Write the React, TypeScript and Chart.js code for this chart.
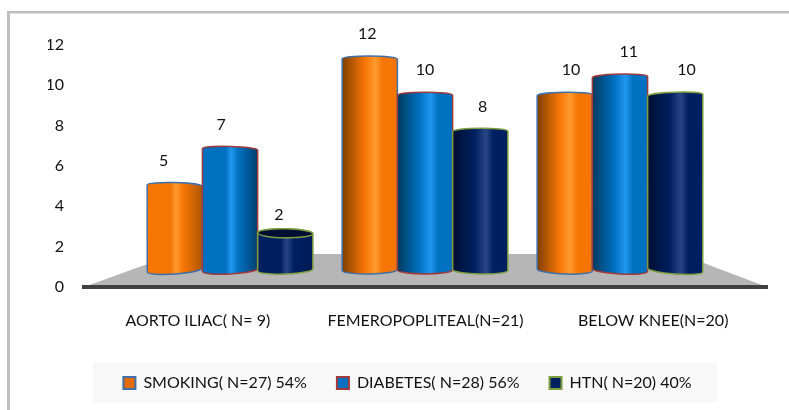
import React, { useEffect, useRef } from "react";
import { Chart, registerables } from "chart.js";

Chart.register(...registerables);

const categories = ["AORTO ILIAC( N= 9)", "FEMEROPOPLITEAL(N=21)", "BELOW KNEE(N=20)"];
const seriesNames = ["SMOKING( N=27) 54%", "DIABETES( N=28) 56%", "HTN( N=20) 40%"];
const smoking = [5, 12, 10];
const diabetes = [7, 10, 11];
const htn = [2, 8, 10];
const seriesValues = [smoking, diabetes, htn];
const yTicks = [0, 2, 4, 6, 8, 10, 12];

const borders = ["#3f6fa8", "#a33a3a", "#7f9f3f"];
const swatches = ["#e36c09", "#0070c0", "#002060"];
const tones = [
  { dark: "#7f3f00", base: "#f57505", light: "#ff9a2e", end: "#ad5600" },
  { dark: "#003a5e", base: "#0070c0", light: "#2098f0", end: "#003f6c" },
  { dark: "#000f33", base: "#001f60", light: "#2a4585", end: "#001a55" },
];
const FONT = "Lato, 'Open Sans', sans-serif";
const TEXT = "#111111";

const decor = {
  id: "decor",
  beforeDraw(chart: any) {
    const { ctx, chartArea } = chart;
    ctx.save();
    ctx.fillStyle = "#ffffff";
    ctx.fillRect(0, 0, chart.width, chart.height);
    ctx.fillStyle = "#bfbfbf";
    ctx.fillRect(7, 11, 3, chart.height - 11);
    ctx.fillRect(7, 11, chart.width - 7, 2.5);
    ctx.fillStyle = "#f8f8f8";
    ctx.fillRect(93, 363, 624, 39);
    const b = chartArea.bottom;
    ctx.fillStyle = "#b6b6b6";
    ctx.beginPath();
    ctx.moveTo(chartArea.left, b);
    ctx.lineTo(175, 254);
    ctx.lineTo(680, 254);
    ctx.lineTo(chartArea.right, b);
    ctx.closePath();
    ctx.fill();
    ctx.restore();
  },
  afterDatasetsDraw(chart: any) {
    const { ctx } = chart;
    const middle = 425;
    ctx.save();
    chart.data.datasets.forEach((ds: any, s: number) => {
      const meta = chart.getDatasetMeta(s);
      meta.data.forEach((bar: any, i: number) => {
        const { x, y, base, width } = bar;
        const rx = width / 2;
        const t = tones[s];
        const g = ctx.createLinearGradient(x - rx, 0, x + rx, 0);
        if (i === 0) {
          g.addColorStop(0, t.base);
          g.addColorStop(0.42, t.base);
          g.addColorStop(0.52, t.light);
          g.addColorStop(0.66, t.base);
          g.addColorStop(1, t.end);
        } else {
          g.addColorStop(0, t.dark);
          g.addColorStop(0.4, t.base);
          g.addColorStop(0.6, t.light);
          g.addColorStop(0.74, t.base);
          g.addColorStop(1, t.base);
        }
        const exposed = y > 210;
        const ryTop = exposed ? 4.5 : 3;
        const cyTop = exposed ? y - 4.5 : y + 2;
        const cyBot = base - 4;
        const rotBot = (x - middle) * 0.00028;
        const rotTop = -(x - middle) * 0.00012;
        ctx.beginPath();
        ctx.ellipse(x, cyTop, rx, ryTop, rotTop, Math.PI, Math.PI * 2);
        ctx.ellipse(x, cyBot, rx, 4, rotBot, 0, Math.PI);
        ctx.closePath();
        ctx.fillStyle = g;
        ctx.fill();
        ctx.lineWidth = 1.5;
        ctx.strokeStyle = borders[s];
        ctx.stroke();
        if (exposed) {
          ctx.beginPath();
          ctx.ellipse(x, cyTop, rx, ryTop, rotTop, 0, Math.PI * 2);
          ctx.fillStyle = t.dark;
          ctx.fill();
          ctx.stroke();
        }
        ctx.fillStyle = TEXT;
        ctx.font = `16px ${FONT}`;
        ctx.textAlign = "center";
        ctx.textBaseline = "middle";
        ctx.fillText(String(seriesValues[s][i]), x + (x - middle) * 0.045, y - 23);
      });
    });
    ctx.restore();
  },
};

export default function App() {
  const ref = useRef<HTMLCanvasElement>(null);
  useEffect(() => {
    const chart = new Chart(ref.current as HTMLCanvasElement, {
      type: "bar",
      plugins: [decor],
      data: {
        labels: categories,
        datasets: seriesNames.map((name, s) => ({
          label: name,
          data: seriesValues[s].map((v, i) => ({ x: i, y: v })),
          xAxisID: "xBars",
          yAxisID: "yBars",
          backgroundColor: "transparent",
          borderWidth: 0,
          categoryPercentage: 0.85,
          barPercentage: 1,
        })),
      } as any,
      options: {
        animation: false,
        responsive: false,
        layout: { padding: { left: 48, right: 22, top: 45, bottom: 9 } },
        plugins: {
          tooltip: { enabled: false },
          legend: {
            position: "bottom",
            align: "center",
            labels: {
              boxWidth: 12,
              boxHeight: 12,
              padding: 30,
              color: TEXT,
              font: { family: FONT, size: 16 },
              generateLabels: () =>
                seriesNames.map((text, s) => ({
                  text,
                  fillStyle: swatches[s],
                  strokeStyle: borders[s],
                  lineWidth: 2,
                  fontColor: TEXT,
                  datasetIndex: s,
                })),
            },
          },
        },
        scales: {
          x: {
            type: "category",
            labels: categories,
            grid: { display: false, drawTicks: false },
            border: { color: "#404040", width: 4 },
            ticks: { padding: 24, color: TEXT, font: { family: FONT, size: 16 }, maxRotation: 0, autoSkip: false },
            afterFit: (s: any) => { s.height = 58; },
          },
          xBars: {
            type: "linear",
            display: false,
            offset: false,
            min: -0.749,
            max: 2.754,
            afterBuildTicks: (s: any) => { s.ticks = [{ value: 0 }, { value: 1 }, { value: 2 }]; },
          },
          y: {
            type: "linear",
            position: "left",
            min: 0,
            max: 12,
            grid: { display: false, drawTicks: false },
            border: { display: false },
            afterBuildTicks: (s: any) => { s.ticks = yTicks.map((value) => ({ value })); },
            ticks: { padding: 20, color: TEXT, font: { family: FONT, size: 16 } },
            afterFit: (s: any) => { s.width = 36; },
          },
          yBars: {
            type: "linear",
            display: false,
            min: -0.719,
            max: 12.666,
          },
        },
      } as any,
    });
    return () => chart.destroy();
  }, []);
  return (
    <div style={{ position: "fixed", left: 0, top: 0, width: 789, height: 410 }}>
      <canvas ref={ref} width={789} height={410} style={{ display: "block" }} />
    </div>
  );
}
